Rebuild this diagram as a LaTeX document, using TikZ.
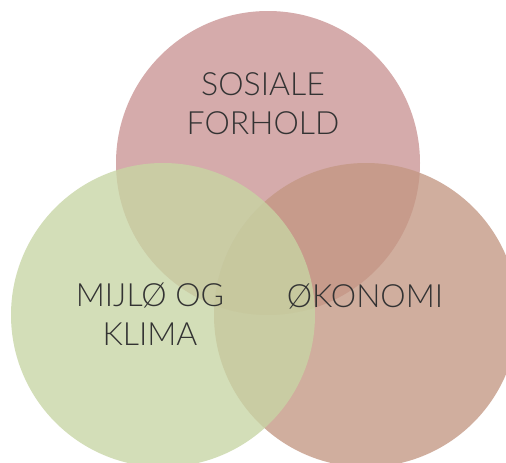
\documentclass[tikz,border=0pt]{standalone}
\usepackage{fontspec}
\setmainfont{Lato Light}
\definecolor{rose}{RGB}{201,147,147}
\definecolor{moss}{RGB}{199,213,164}
\definecolor{clay}{RGB}{195,151,131}
\definecolor{inkgray}{RGB}{51,51,51}
\usetikzlibrary{positioning}

\begin{document}
\begin{tikzpicture}[x=1pt, y=-1pt,
                set/.style={circle, minimum size=304pt, inner sep=0pt,
                            fill opacity=0.78},
                lbl/.style={align=center, text=inkgray, anchor=base,
                            font=\fontsize{32}{39}\selectfont}
            ]
                \useasboundingbox (0,0) rectangle (506,463);

                % the three sets
                \node[set, fill=rose] (sosial) at (268,163) {};
                \node[set, fill=clay] (okonomi) at (366,315) {};
                \node[set, fill=moss] (miljo) at (163,315) {};

                % labels (anchored at the last baseline)
                \node[lbl] (sosiallbl) at (263,134) {SOSIALE\\FORHOLD};
                \node[lbl] (miljolbl) at (150,345) {MIJLØ OG\\KLIMA};
                \node[lbl] (okonomilbl) at (365,307) {ØKONOMI};
            \end{tikzpicture}
\end{document}
